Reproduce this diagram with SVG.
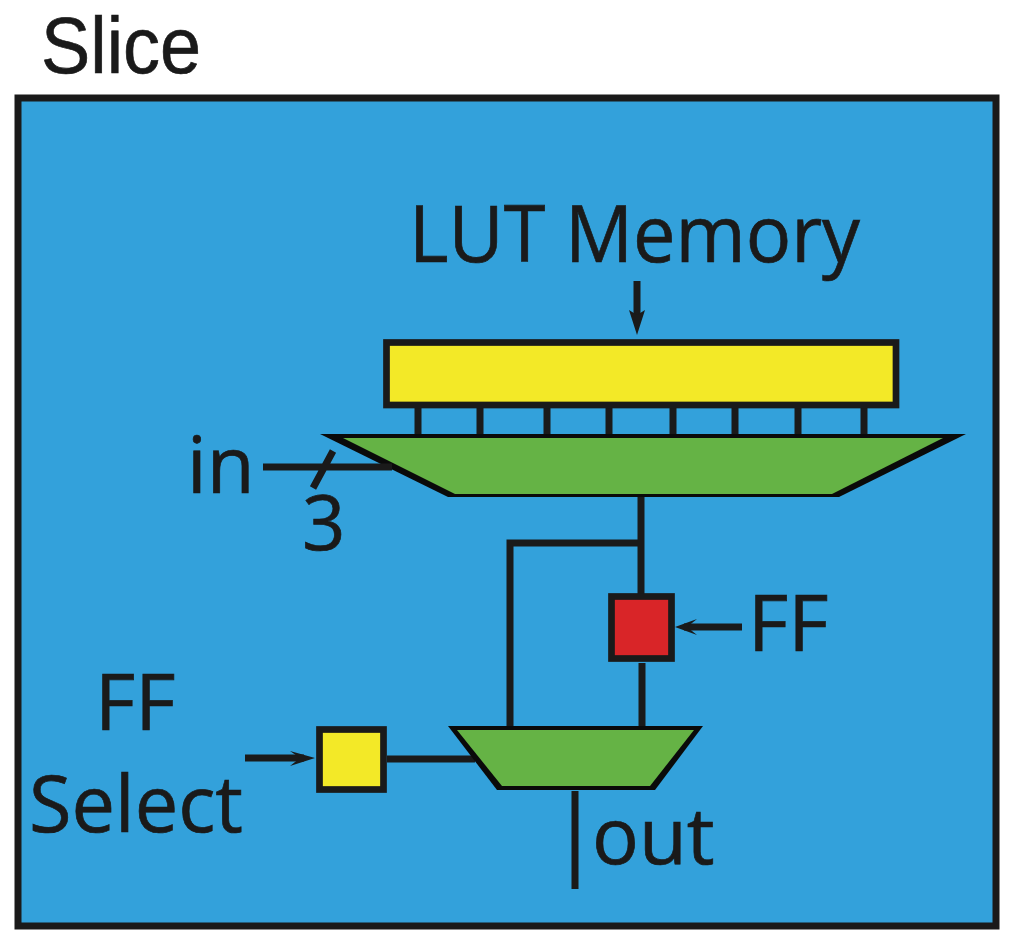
<svg xmlns="http://www.w3.org/2000/svg" width="1026" height="942" viewBox="0 0 1026 942">
<style>
text{font-family:"Open Sans","Noto Sans","Liberation Sans",sans-serif;fill:#1a1a1a;stroke:#1a1a1a;stroke-width:.7px;font-size:78px}
.s{stroke:#1a1a1a;stroke-width:7;fill:none}
.b{stroke:#1a1a1a;stroke-width:6.700}
.a{fill:#1a1a1a}
.k{fill:#0a0a0a}
.g{fill:#65b345}
.y{fill:#f3e927}
</style>
<rect width="1026" height="942" fill="#fff"/>
<g id="slice"><rect x="18" y="98" width="978" height="828" fill="#33a1db" stroke="#1a1a1a" stroke-width="7"/></g>
<text x="41" y="73" textLength="160" lengthAdjust="spacingAndGlyphs" style="font-family:'Liberation Sans',sans-serif;font-size:80px">Slice</text>
<g id="connectors">
<path class="s" d="M418 405V436M480 405V436M547 405V436M609 405V436M673 405V436M735 405V436M798 405V436M864 405V436"/>
<path class="s" d="M641 495V596M641 543H510V730M642 663V728M387 759H475M575 791V889"/>
<path class="s" d="M637 281V322M742 627H684M245 758H304"/>
<path class="a" d="M637 335L629 310L637 315L645 310ZM675 627L697 619L687 627L697 635ZM315 758L290 751L300 758L290 766Z"/>
</g>
<g id="lut-memory"><rect class="b y" x="386.500" y="342.500" width="509.500" height="62.500"/><text x="409" y="262" textLength="451" lengthAdjust="spacingAndGlyphs">LUT Memory</text></g>
<g id="lut-mux"><path class="k" d="M320 434H966L839 497H448Z"/><path class="g" d="M343 438H943L832 494H455Z"/></g>
<g id="in"><path class="s" d="M263 467H392M333 451L313 488"/><text x="187" y="493">in</text><text x="302" y="550" style="font-size:76px">3</text></g>
<g id="ff"><rect class="b" x="611.500" y="596.500" width="60" height="62" fill="#d92528"/><text x="748" y="651">FF</text></g>
<g id="ff-select"><rect class="b y" x="319.500" y="729.500" width="64" height="60"/><text x="95" y="730">FF</text><text x="29" y="832" textLength="214" lengthAdjust="spacingAndGlyphs">Select</text></g>
<g id="out-mux"><path class="k" d="M448 726H703L655 790H497Z"/><path class="g" d="M457 730H694L650 786H502Z"/></g>
<text x="592" y="864">out</text>
</svg>
